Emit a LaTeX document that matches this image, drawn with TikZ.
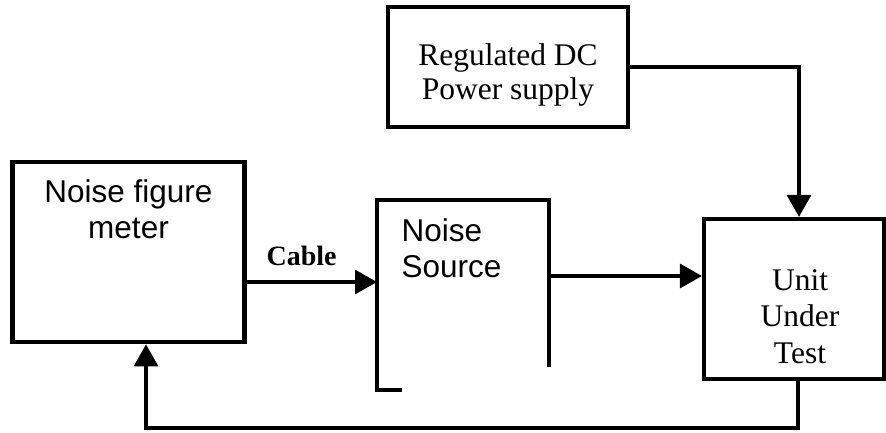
\documentclass[tikz,border=0pt]{standalone}
\usepackage{fontspec}
\setmainfont{Liberation Serif}
\newfontfamily\arialfont{Liberation Sans}
\usetikzlibrary{arrows.meta}

\tikzset{
	box/.style={draw, line width=4.2pt, inner sep=0pt},
	conn/.style={line width=3.2pt, -{Triangle[length=22pt,width=24pt]}},
	sanslbl/.style={font=\arialfont\fontsize{31.5}{36}\selectfont},
	seriflbl/.style={font=\fontsize{31.5}{36.5}\selectfont},
}

\begin{document}
\begin{tikzpicture}[x=1pt, y=-1pt]
	\useasboundingbox (0,0) rectangle (886,432);
	% blocks
	\node[box, minimum width=232, minimum height=180.5] (meter) at (128.5,252) {};
	\node[box, minimum width=240, minimum height=119.5] (psu) at (508,67) {};
	\node[box, minimum width=180, minimum height=160] (uut) at (794,299) {};
	\node[inner sep=0pt, outer sep=0pt, minimum width=172, minimum height=190.5] (src) at (463,295) {};
	% open outline of the noise source
	\draw[line width=4.2pt] ([yshift=23.5pt]src.south east) -- (src.north east) -- (src.north west)
		-- (src.south west) -- ([xshift=25pt]src.south west);
	% texts (base = last line)
	\node[sanslbl, align=center, anchor=base] (meterlbl) at (128.5,238) {Noise figure\\meter};
	\node[sanslbl, align=left, anchor=base west] (srclbl) at (398,277) {Noise\\Source};
	\node[font=\fontsize{31.5}{34}\selectfont, align=center, anchor=base] (psulbl) at (508,99) {Regulated DC\\Power supply};
	\node[seriflbl, align=center, anchor=base] (uutlbl) at (800,363) {Unit\\Under\\Test};
	\node[font=\bfseries\fontsize{28}{30}\selectfont, anchor=base west] (cable) at (263,265) {Cable};
	% connections
	\draw[conn] (meter.east |- 0,282) -- (src.west |- 0,282);
	\draw[conn] (src.east |- 0,276) -- (uut.west |- 0,276);
	\draw[conn] (psu.east) -| ([xshift=5pt]uut.north);
	\coordinate (fb) at ([xshift=17.5pt]meter.south);
	\draw[conn] ([xshift=4pt]uut.south) |- (fb |- 0,428) -- (fb);
\end{tikzpicture}
\end{document}
